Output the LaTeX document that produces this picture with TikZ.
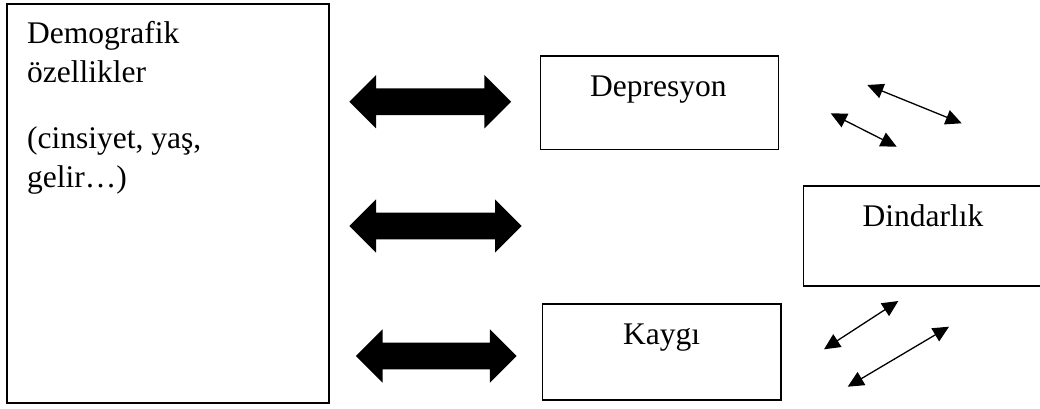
\documentclass[tikz,border=0pt]{standalone}
\usepackage{fontspec}
\setmainfont{Liberation Serif}
\usetikzlibrary{arrows.meta}
\tikzset{
  box/.style={draw=black, line width=1.2pt, fill=none, inner sep=0pt, outer sep=0pt, anchor=north west},
  txt/.style={anchor=base west, inner sep=0pt, font=\fontsize{31.5}{39}\selectfont},
  bigarrow/.style={fill=black, draw=none},
  thinarrow/.style={line width=1.3pt, {Triangle[length=16pt,width=15pt]}-{Triangle[length=16pt,width=15pt]}}
}
% #1 = centre x, #2 = centre y, #3 = half length, #4 = name
\newcommand{\mybigdarrow}[4]{%
  \coordinate (#4) at (#1,#2);
  \fill[bigarrow] (#1-#3,#2) -- (#1-#3+26.7,#2-26.7) -- (#1-#3+26.7,#2-13.3)
    -- (#1+#3-26.7,#2-13.3) -- (#1+#3-26.7,#2-26.7) -- (#1+#3,#2)
    -- (#1+#3-26.7,#2+26.7) -- (#1+#3-26.7,#2+13.3)
    -- (#1-#3+26.7,#2+13.3) -- (#1-#3+26.7,#2+26.7) -- cycle;}
\begin{document}
\begin{tikzpicture}[x=1pt,y=-1pt]
\useasboundingbox (0,0) rectangle (1040,408);
% boxes
\node[box, minimum width=322pt, minimum height=399pt] (demo) at (7,4) {};
\node[box, minimum width=238pt, minimum height=93.5pt] (dep) at (540.5,56) {};
\node[box, minimum width=260pt, minimum height=100pt] (din) at (803.5,186) {};
\node[box, minimum width=238.5pt, minimum height=96pt] (kay) at (542.5,304) {};
% texts
\node[txt] (t1) at (27,43) {Demografik};
\node[txt] (t2) at (27,82) {özellikler};
\node[txt] (t3) at (27,148) {(cinsiyet, yaş,};
\node[txt] (t4) at (27,187) {gelir…)};
\node[txt] (tdep) at (590,96) {Depresyon};
\node[txt] (tdin) at (862.5,226) {Dindarlık};
\node[txt] (tkay) at (623,344) {Kaygı};
% big double arrows
\mybigdarrow{430.2}{101.7}{80.85}{a1}
\mybigdarrow{435.5}{226}{86.2}{a2}
\mybigdarrow{436.3}{356}{80.35}{a3}
% thin arrows
\coordinate (p1) at (867.3,85);
\coordinate (q1) at (961.7,123.3);
\coordinate (p2) at (830.7,113.3);
\coordinate (q2) at (896.7,146.7);
\coordinate (p3) at (898.3,301);
\coordinate (q3) at (824,349.3);
\coordinate (p4) at (949,326.7);
\coordinate (q4) at (847.7,386.7);
\draw[thinarrow] (p1) -- (q1);
\draw[thinarrow] (p2) -- (q2);
\draw[thinarrow] (p3) -- (q3);
\draw[thinarrow] (p4) -- (q4);
\end{tikzpicture}
\end{document}
